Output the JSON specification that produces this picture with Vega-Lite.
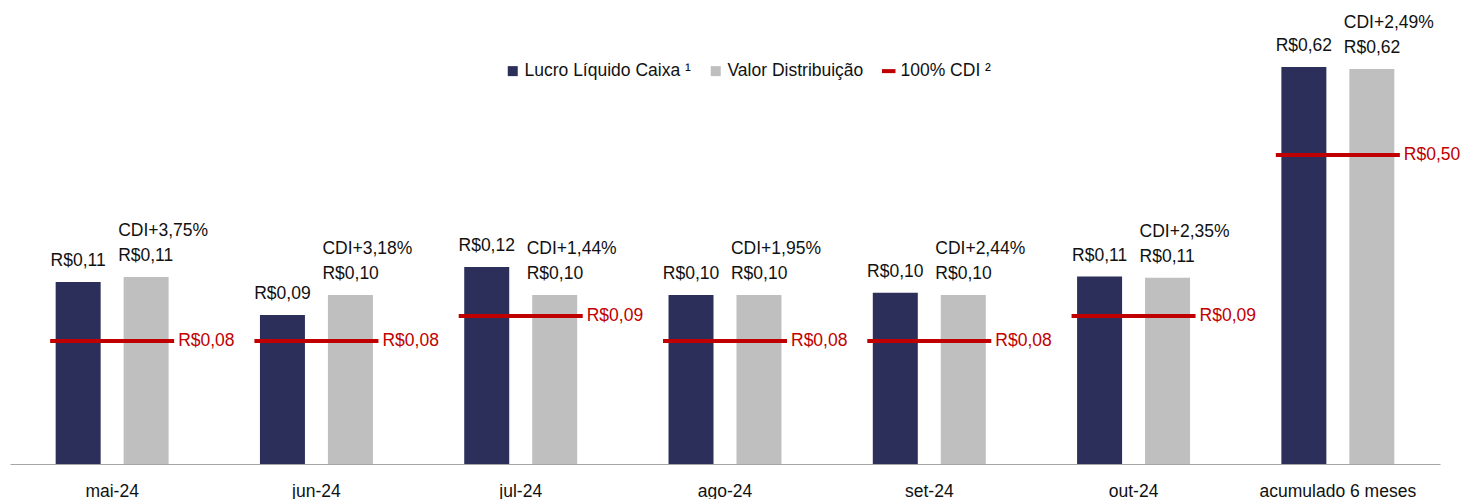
{
  "$schema": "https://vega.github.io/schema/vega-lite/v6.json",
  "width": 1430,
  "height": 464,
  "padding": {"left": 10, "top": 0, "right": 0, "bottom": 0},
  "config": {
    "view": {"stroke": null},
    "font": "Liberation Sans",
    "text": {"font": "Liberation Sans", "fontSize": 17.5, "color": "#111111"},
    "tick": {"opacity": 1}
  },
  "data": {
    "values": [
      {"mes": "mai-24", "grupo": "mensal", "serie": "Lucro Líquido Caixa ¹", "valor": 0.1111, "rotulo": "R$0,11", "spread": ""},
      {"mes": "mai-24", "grupo": "mensal", "serie": "Valor Distribuição", "valor": 0.1142, "rotulo": "R$0,11", "spread": "CDI+3,75%"},
      {"mes": "mai-24", "grupo": "mensal", "serie": "100% CDI ²", "valor": 0.0751, "rotulo": "R$0,08", "spread": ""},
      {"mes": "jun-24", "grupo": "mensal", "serie": "Lucro Líquido Caixa ¹", "valor": 0.0910, "rotulo": "R$0,09", "spread": ""},
      {"mes": "jun-24", "grupo": "mensal", "serie": "Valor Distribuição", "valor": 0.1032, "rotulo": "R$0,10", "spread": "CDI+3,18%"},
      {"mes": "jun-24", "grupo": "mensal", "serie": "100% CDI ²", "valor": 0.0751, "rotulo": "R$0,08", "spread": ""},
      {"mes": "jul-24", "grupo": "mensal", "serie": "Lucro Líquido Caixa ¹", "valor": 0.1203, "rotulo": "R$0,12", "spread": ""},
      {"mes": "jul-24", "grupo": "mensal", "serie": "Valor Distribuição", "valor": 0.1032, "rotulo": "R$0,10", "spread": "CDI+1,44%"},
      {"mes": "jul-24", "grupo": "mensal", "serie": "100% CDI ²", "valor": 0.0904, "rotulo": "R$0,09", "spread": ""},
      {"mes": "ago-24", "grupo": "mensal", "serie": "Lucro Líquido Caixa ¹", "valor": 0.1032, "rotulo": "R$0,10", "spread": ""},
      {"mes": "ago-24", "grupo": "mensal", "serie": "Valor Distribuição", "valor": 0.1032, "rotulo": "R$0,10", "spread": "CDI+1,95%"},
      {"mes": "ago-24", "grupo": "mensal", "serie": "100% CDI ²", "valor": 0.0751, "rotulo": "R$0,08", "spread": ""},
      {"mes": "set-24", "grupo": "mensal", "serie": "Lucro Líquido Caixa ¹", "valor": 0.1046, "rotulo": "R$0,10", "spread": ""},
      {"mes": "set-24", "grupo": "mensal", "serie": "Valor Distribuição", "valor": 0.1032, "rotulo": "R$0,10", "spread": "CDI+2,44%"},
      {"mes": "set-24", "grupo": "mensal", "serie": "100% CDI ²", "valor": 0.0751, "rotulo": "R$0,08", "spread": ""},
      {"mes": "out-24", "grupo": "mensal", "serie": "Lucro Líquido Caixa ¹", "valor": 0.1144, "rotulo": "R$0,11", "spread": ""},
      {"mes": "out-24", "grupo": "mensal", "serie": "Valor Distribuição", "valor": 0.1137, "rotulo": "R$0,11", "spread": "CDI+2,35%"},
      {"mes": "out-24", "grupo": "mensal", "serie": "100% CDI ²", "valor": 0.0904, "rotulo": "R$0,09", "spread": ""},
      {"mes": "acumulado 6 meses", "grupo": "acumulado", "serie": "Lucro Líquido Caixa ¹", "valor": 0.6203, "rotulo": "R$0,62", "spread": ""},
      {"mes": "acumulado 6 meses", "grupo": "acumulado", "serie": "Valor Distribuição", "valor": 0.6172, "rotulo": "R$0,62", "spread": "CDI+2,49%"},
      {"mes": "acumulado 6 meses", "grupo": "acumulado", "serie": "100% CDI ²", "valor": 0.4828, "rotulo": "R$0,50", "spread": ""}
    ]
  },
  "encoding": {
    "x": {
      "field": "mes",
      "type": "nominal",
      "scale": {
        "domain": ["mai-24", "jun-24", "jul-24", "ago-24", "set-24", "out-24", "acumulado 6 meses"],
        "paddingInner": 0.447,
        "paddingOuter": 0.2235
      },
      "axis": {
        "title": null,
        "labelAngle": 0,
        "ticks": false,
        "tickSize": 0,
        "domainColor": "#A6A6A6",
        "domainWidth": 1.2,
        "labelFont": "Liberation Sans",
        "labelFontSize": 17.5,
        "labelColor": "#111111",
        "labelBaseline": "alphabetic",
        "labelPadding": 32
      }
    }
  },
  "layer": [
    {
      "encoding": {
        "y": {"field": "valor", "type": "quantitative", "scale": {"domain": [0, 0.28327], "nice": false}, "axis": null}
      },
      "layer": [
        {
          "transform": [{"filter": "datum.grupo == 'mensal' && datum.serie != '100% CDI ²'"}],
          "mark": {"type": "bar"},
          "encoding": {
            "xOffset": {"field": "serie", "type": "nominal", "scale": {"domain": ["Lucro Líquido Caixa ¹", "Valor Distribuição"], "paddingInner": 0.338, "paddingOuter": 0}},
            "color": {
              "field": "serie",
              "type": "nominal",
              "scale": {"domain": ["Lucro Líquido Caixa ¹", "Valor Distribuição", "100% CDI ²"], "range": ["#2B2F5A", "#BFBFBF", "#C00000"]},
              "legend": {
                "title": null,
                "orient": "none",
                "direction": "horizontal",
                "legendX": 494,
                "legendY": 62,
                "symbolType": "square",
                "symbolSize": 100,
                "labelOffset": 3,
                "columnPadding": 16,
                "labelLimit": 0,
                "labelFont": "Liberation Sans",
                "labelFontSize": 17.5,
                "labelColor": "#111111",
                "encode": {
                  "symbols": {
                    "update": {
                      "shape": {"signal": "datum.value === '100% CDI ²' ? 'M-1.35,-0.4H1.35V0.4H-1.35Z' : 'square'"},
                      "strokeWidth": {"value": 0},
                      "opacity": {"value": 1}
                    }
                  }
                }
              }
            }
          }
        },
        {
          "transform": [{"filter": "datum.grupo == 'mensal' && datum.serie == 'Lucro Líquido Caixa ¹'"}],
          "mark": {"type": "text", "align": "center", "baseline": "alphabetic", "dy": -16},
          "encoding": {
            "xOffset": {"field": "serie", "type": "nominal"},
            "text": {"field": "rotulo"}
          }
        },
        {
          "transform": [{"filter": "datum.grupo == 'mensal' && datum.serie == 'Valor Distribuição'"}],
          "mark": {"type": "text", "align": "left", "baseline": "alphabetic", "dy": -16, "dx": -28},
          "encoding": {
            "xOffset": {"field": "serie", "type": "nominal"},
            "text": {"field": "rotulo"}
          }
        },
        {
          "transform": [{"filter": "datum.grupo == 'mensal' && datum.serie == 'Valor Distribuição'"}],
          "mark": {"type": "text", "align": "left", "baseline": "alphabetic", "dy": -41, "dx": -28},
          "encoding": {
            "xOffset": {"field": "serie", "type": "nominal"},
            "text": {"field": "spread"}
          }
        },
        {
          "transform": [{"filter": "datum.grupo == 'mensal' && datum.serie == '100% CDI ²'"}],
          "mark": {"type": "tick", "size": 124, "thickness": 4, "opacity": 1},
          "encoding": {
            "color": {"field": "serie", "type": "nominal"}
          }
        },
        {
          "transform": [{"filter": "datum.grupo == 'mensal' && datum.serie == '100% CDI ²'"}],
          "mark": {"type": "text", "align": "left", "baseline": "middle", "dx": 66, "color": "#C00000"},
          "encoding": {
            "text": {"field": "rotulo"}
          }
        }
      ]
    },
    {
      "encoding": {
        "y": {"field": "valor", "type": "quantitative", "scale": {"domain": [0, 0.725], "nice": false}, "axis": null}
      },
      "layer": [
        {
          "transform": [{"filter": "datum.grupo == 'acumulado' && datum.serie != '100% CDI ²'"}],
          "mark": {"type": "bar"},
          "encoding": {
            "xOffset": {"field": "serie", "type": "nominal"},
            "color": {"field": "serie", "type": "nominal"}
          }
        },
        {
          "transform": [{"filter": "datum.grupo == 'acumulado' && datum.serie == 'Lucro Líquido Caixa ¹'"}],
          "mark": {"type": "text", "align": "center", "baseline": "alphabetic", "dy": -16},
          "encoding": {
            "xOffset": {"field": "serie", "type": "nominal"},
            "text": {"field": "rotulo"}
          }
        },
        {
          "transform": [{"filter": "datum.grupo == 'acumulado' && datum.serie == 'Valor Distribuição'"}],
          "mark": {"type": "text", "align": "left", "baseline": "alphabetic", "dy": -16, "dx": -28},
          "encoding": {
            "xOffset": {"field": "serie", "type": "nominal"},
            "text": {"field": "rotulo"}
          }
        },
        {
          "transform": [{"filter": "datum.grupo == 'acumulado' && datum.serie == 'Valor Distribuição'"}],
          "mark": {"type": "text", "align": "left", "baseline": "alphabetic", "dy": -41, "dx": -28},
          "encoding": {
            "xOffset": {"field": "serie", "type": "nominal"},
            "text": {"field": "spread"}
          }
        },
        {
          "transform": [{"filter": "datum.grupo == 'acumulado' && datum.serie == '100% CDI ²'"}],
          "mark": {"type": "tick", "size": 124, "thickness": 4, "opacity": 1},
          "encoding": {
            "color": {"field": "serie", "type": "nominal"}
          }
        },
        {
          "transform": [{"filter": "datum.grupo == 'acumulado' && datum.serie == '100% CDI ²'"}],
          "mark": {"type": "text", "align": "left", "baseline": "middle", "dx": 66, "color": "#C00000"},
          "encoding": {
            "text": {"field": "rotulo"}
          }
        }
      ]
    }
  ],
  "resolve": {"scale": {"y": "independent"}}
}
